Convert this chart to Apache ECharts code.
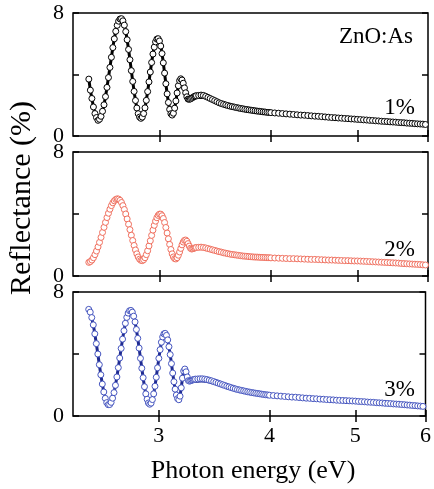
<!DOCTYPE html>
<html>
<head>
<meta charset="utf-8">
<style>
  html, body { margin: 0; padding: 0; background: #fff; }
  #chart-container { width: 434px; height: 489px; }
</style>
<script src="https://cdn.jsdelivr.net/npm/echarts@6.0.0/dist/echarts.min.js"></script>
</head>
<body>
<div id="chart-container"></div>
<script>
// photon energy (eV) of the measured points
var energy = [
  2.50, 2.51, 2.52, 2.53, 2.54, 2.55, 2.56, 2.57, 2.58, 2.59,
  2.60, 2.61, 2.62, 2.63, 2.64, 2.65, 2.66, 2.67, 2.68, 2.69,
  2.70, 2.71, 2.72, 2.73, 2.74, 2.75, 2.76, 2.77, 2.78, 2.79,
  2.80, 2.81, 2.82, 2.83, 2.84, 2.85, 2.86, 2.87, 2.88, 2.89,
  2.90, 2.91, 2.92, 2.93, 2.94, 2.95, 2.96, 2.97, 2.98, 2.99,
  3.00, 3.01, 3.02, 3.03, 3.04, 3.05, 3.06, 3.07, 3.08, 3.09,
  3.10, 3.11, 3.12, 3.13, 3.14, 3.15, 3.16, 3.17, 3.18, 3.19,
  3.20, 3.21, 3.22, 3.23, 3.24, 3.25, 3.26, 3.27, 3.28, 3.29,
  3.30,
  3.32, 3.34, 3.36, 3.38, 3.40, 3.42, 3.44, 3.46, 3.48, 3.50,
  3.52, 3.54, 3.56, 3.58, 3.60, 3.62, 3.64, 3.66, 3.68, 3.70,
  3.72, 3.74, 3.76, 3.78, 3.80, 3.82, 3.84, 3.86, 3.88, 3.90,
  3.92, 3.94, 3.96, 3.98, 4.00,
  4.04, 4.08, 4.12, 4.16, 4.20, 4.24, 4.28, 4.32, 4.36, 4.40,
  4.44, 4.48, 4.52, 4.56, 4.60, 4.64, 4.68, 4.72, 4.76, 4.80,
  4.84, 4.88, 4.92, 4.96, 5.00, 5.04, 5.08, 5.12, 5.16, 5.20,
  5.24, 5.28, 5.32, 5.36, 5.40, 5.44, 5.48, 5.52, 5.56, 5.60,
  5.64, 5.68, 5.72, 5.76, 5.80, 5.84, 5.88, 5.92, 5.96
];

// reflectance (%) for 1%, 2%, 3% As
var reflect1 = [
  3.70, 2.98, 2.44, 1.89, 1.46, 1.20, 1.02, 1.09, 1.28, 1.61,
  2.03, 2.56, 3.16, 3.80, 4.46, 5.12, 5.75, 6.32, 6.81, 7.20,
  7.47, 7.61, 7.63, 7.49, 7.21, 6.79, 6.26, 5.63, 4.96, 4.25,
  3.55, 2.90, 2.31, 1.82, 1.45, 1.23, 1.15, 1.23, 1.46, 1.83,
  2.32, 2.89, 3.52, 4.16, 4.78, 5.33, 5.78, 6.12, 6.30, 6.33,
  6.18, 5.85, 5.36, 4.76, 4.09, 3.40, 2.74, 2.18, 1.73, 1.45,
  1.36, 1.48, 1.81, 2.28, 2.80, 3.27, 3.60, 3.72, 3.64, 3.43,
  3.13, 2.81, 2.55, 2.40, 2.39, 2.41, 2.46, 2.51, 2.56, 2.60,
  2.62,
  2.64, 2.66, 2.64, 2.58, 2.51, 2.44, 2.37, 2.30, 2.23, 2.16,
  2.11, 2.06, 2.02, 1.98, 1.94, 1.91, 1.88, 1.85, 1.82, 1.79,
  1.77, 1.74, 1.72, 1.70, 1.68, 1.66, 1.64, 1.62, 1.61, 1.59,
  1.57, 1.56, 1.54, 1.53, 1.52,
  1.50, 1.48, 1.46, 1.44, 1.42, 1.40, 1.38, 1.36, 1.35, 1.33,
  1.31, 1.29, 1.28, 1.26, 1.24, 1.22, 1.20, 1.19, 1.17, 1.16,
  1.14, 1.13, 1.11, 1.10, 1.08, 1.07, 1.05, 1.04, 1.02, 1.01,
  0.99, 0.98, 0.96, 0.95, 0.94, 0.92, 0.91, 0.90, 0.88, 0.87,
  0.86, 0.84, 0.83, 0.82, 0.80, 0.79, 0.78, 0.77, 0.75
];

var reflect2 = [
  0.88, 0.93, 1.03, 1.18, 1.38, 1.61, 1.88, 2.17, 2.49, 2.81,
  3.14, 3.46, 3.77, 4.05, 4.31, 4.54, 4.72, 4.85, 4.94, 4.98,
  4.96, 4.88, 4.74, 4.54, 4.29, 4.00, 3.68, 3.34, 2.99, 2.63,
  2.29, 1.97, 1.68, 1.43, 1.23, 1.09, 1.01, 0.99, 1.05, 1.18,
  1.38, 1.63, 1.94, 2.27, 2.62, 2.96, 3.27, 3.54, 3.76, 3.91,
  3.99, 3.99, 3.89, 3.71, 3.45, 3.13, 2.77, 2.40, 2.04, 1.71,
  1.43, 1.23, 1.12, 1.10, 1.18, 1.34, 1.55, 1.78, 2.01, 2.19,
  2.30, 2.32, 2.24, 2.09, 1.93, 1.79, 1.74, 1.76, 1.79, 1.82,
  1.84,
  1.85, 1.86, 1.84, 1.81, 1.77, 1.73, 1.69, 1.65, 1.61, 1.57,
  1.54, 1.50, 1.47, 1.44, 1.41, 1.39, 1.37, 1.35, 1.33, 1.31,
  1.29, 1.28, 1.27, 1.25, 1.24, 1.23, 1.22, 1.22, 1.21, 1.20,
  1.20, 1.19, 1.18, 1.18, 1.17,
  1.16, 1.15, 1.14, 1.13, 1.12, 1.12, 1.11, 1.10, 1.09, 1.08,
  1.07, 1.07, 1.06, 1.05, 1.04, 1.03, 1.03, 1.02, 1.01, 1.00,
  0.99, 0.99, 0.98, 0.97, 0.97, 0.96, 0.95, 0.94, 0.93, 0.92,
  0.91, 0.90, 0.89, 0.88, 0.87, 0.86, 0.85, 0.84, 0.83, 0.81,
  0.80, 0.79, 0.78, 0.77, 0.76, 0.75, 0.74, 0.72, 0.71
];

var reflect3 = [
  6.88, 6.70, 6.35, 5.88, 5.30, 4.67, 4.00, 3.31, 2.66, 2.06,
  1.55, 1.14, 0.86, 0.73, 0.74, 0.88, 1.15, 1.51, 1.98, 2.52,
  3.12, 3.74, 4.36, 4.96, 5.50, 5.98, 6.36, 6.64, 6.79, 6.81,
  6.70, 6.44, 6.07, 5.58, 5.01, 4.38, 3.72, 3.08, 2.47, 1.89,
  1.43, 1.08, 0.84, 0.76, 0.83, 1.06, 1.43, 1.92, 2.50, 3.11,
  3.72, 4.28, 4.76, 5.10, 5.30, 5.33, 5.20, 4.91, 4.47, 3.96,
  3.38, 2.77, 2.21, 1.73, 1.35, 1.12, 1.05, 1.28, 1.82, 2.44,
  2.90, 3.03, 2.85, 2.52, 2.28, 2.25, 2.28, 2.31, 2.34, 2.36,
  2.38,
  2.39, 2.40, 2.40, 2.38, 2.35, 2.31, 2.27, 2.22, 2.17, 2.12,
  2.07, 2.02, 1.97, 1.92, 1.88, 1.83, 1.79, 1.75, 1.71, 1.68,
  1.65, 1.62, 1.59, 1.56, 1.54, 1.51, 1.49, 1.47, 1.45, 1.43,
  1.41, 1.39, 1.37, 1.36, 1.34,
  1.32, 1.30, 1.28, 1.26, 1.24, 1.22, 1.21, 1.19, 1.17, 1.15,
  1.14, 1.12, 1.11, 1.09, 1.08, 1.06, 1.05, 1.04, 1.02, 1.01,
  1.00, 0.99, 0.98, 0.97, 0.96, 0.94, 0.93, 0.92, 0.90, 0.89,
  0.88, 0.86, 0.85, 0.84, 0.82, 0.81, 0.80, 0.78, 0.77, 0.76,
  0.74, 0.73, 0.71, 0.70, 0.68, 0.67, 0.65, 0.64, 0.62
];

// fitted curve where it separates from the points (above the gap)
var fitEnergy = [3.24, 3.28, 3.32, 3.36, 3.40, 3.44, 3.48, 3.52, 3.56, 3.60,
                 3.64, 3.68, 3.72, 3.76, 3.80, 3.84, 3.88, 3.92, 3.96, 4.00];
var fit1 = [2.39, 2.45, 2.50, 2.50, 2.44, 2.33, 2.20, 2.08, 1.98, 1.89,
            1.82, 1.76, 1.71, 1.67, 1.64, 1.61, 1.59, 1.57, 1.54, 1.52];
var fit2 = [1.93, 1.76, 1.76, 1.75, 1.71, 1.65, 1.58, 1.51, 1.45, 1.40,
            1.36, 1.32, 1.29, 1.27, 1.25, 1.23, 1.22, 1.20, 1.18, 1.17];
var fit3 = [2.28, 2.25, 2.25, 2.26, 2.23, 2.16, 2.08, 2.00, 1.91, 1.83,
            1.76, 1.70, 1.64, 1.59, 1.55, 1.51, 1.47, 1.43, 1.38, 1.34];

var xTicks = [3, 4, 5, 6];
var panelLabels = ['1%', '2%', '3%'];

var dom = document.getElementById('chart-container');
var myChart = echarts.init(dom, null, { renderer: 'canvas' });

var serif = '"Liberation Serif", "DejaVu Serif", serif';
var xMin = Math.log(2.4);
var xMax = Math.log(6);
var tops = [13, 152, 292];
var heights = [123, 124, 124];
var lineColors = ['#000000', '#ff1f1f', '#1f2a8f'];
var markColors = ['#000000', '#f0705f', '#4656c0'];
var lineWidths = [3, 2, 3];
var reflects = [reflect1, reflect2, reflect3];
var fits = [fit1, fit2, fit3];

// the energy axis is logarithmic: place points at ln(E)
function toPairs(xs, ys) {
  var out = [];
  for (var i = 0; i < xs.length && i < ys.length; i++) {
    out.push([Math.log(xs[i]), ys[i]]);
  }
  return out;
}

var logTicks = xTicks.map(function (v) { return Math.log(v); });
var tickStyle = { color: '#000', width: 1.5 };

var grids = [], xAxes = [], yAxes = [], series = [], graphics = [];

for (var i = 0; i < 3; i++) {
  grids.push({
    left: 73, width: 355, top: tops[i], height: heights[i],
    show: true, borderColor: '#000', borderWidth: 1.5
  });
  xAxes.push({
    type: 'value', gridIndex: i, min: xMin, max: xMax, position: 'bottom',
    axisLine: { show: false }, splitLine: { show: false },
    axisTick: { inside: true, length: 6, lineStyle: tickStyle, customValues: logTicks },
    axisLabel: {
      show: i === 2, customValues: logTicks, showMaxLabel: true,
      formatter: function (v) { return String(Math.round(Math.exp(v))); },
      fontFamily: serif, fontSize: 22, color: '#000', margin: 9
    }
  });
  xAxes.push({
    type: 'value', gridIndex: i, min: xMin, max: xMax, position: 'top',
    axisLine: { show: false }, splitLine: { show: false },
    axisTick: { inside: true, length: 6, lineStyle: tickStyle, customValues: logTicks },
    axisLabel: { show: false }
  });
  yAxes.push({
    type: 'value', gridIndex: i, min: 0, max: 8, interval: 4, position: 'left',
    axisLine: { show: false }, splitLine: { show: false },
    axisTick: { inside: true, length: 6, lineStyle: tickStyle },
    axisLabel: {
      formatter: function (v) { return v === 4 ? '' : String(v); },
      fontFamily: serif, fontSize: 22, color: '#000', margin: 9
    }
  });
  yAxes.push({
    type: 'value', gridIndex: i, min: 0, max: 8, interval: 4, position: 'right',
    axisLine: { show: false }, splitLine: { show: false },
    axisTick: { inside: true, length: 6, lineStyle: tickStyle },
    axisLabel: { show: false }
  });

  series.push({
    type: 'line', xAxisIndex: 2 * i, yAxisIndex: 2 * i,
    data: toPairs(fitEnergy, fits[i]),
    symbol: 'none', smooth: true, silent: true, z: 2,
    lineStyle: { color: lineColors[i], width: lineWidths[i] }
  });
  series.push({
    type: 'line', xAxisIndex: 2 * i, yAxisIndex: 2 * i,
    data: toPairs(energy, reflects[i]),
    symbol: 'circle', symbolSize: 6, showAllSymbol: true, z: 3,
    itemStyle: { color: '#fff', borderColor: markColors[i], borderWidth: 1 },
    lineStyle: { color: lineColors[i], width: lineWidths[i] }
  });
}

var labelY = [108, 250, 390];
for (var k = 0; k < 3; k++) {
  graphics.push({
    type: 'text', x: 415, y: labelY[k],
    style: { text: panelLabels[k], font: '23px ' + serif, fill: '#000', align: 'right', verticalAlign: 'middle' }
  });
}
graphics.push({
  type: 'text', x: 413, y: 37,
  style: { text: 'ZnO:As', font: '23px ' + serif, fill: '#000', align: 'right', verticalAlign: 'middle' }
});
graphics.push({
  type: 'text', x: 253, y: 471,
  style: { text: 'Photon energy (eV)', font: '26px ' + serif, fill: '#000', align: 'center', verticalAlign: 'middle' }
});
graphics.push({
  type: 'text', x: 22, y: 198, rotation: Math.PI / 2,
  style: { text: 'Reflectance (%)', font: '30px ' + serif, fill: '#000', align: 'center', verticalAlign: 'middle' }
});

var option = {
  animation: false,
  backgroundColor: '#fff',
  grid: grids,
  xAxis: xAxes,
  yAxis: yAxes,
  series: series,
  graphic: graphics
};

if (option && typeof option === 'object') {
  myChart.setOption(option);
}

window.addEventListener('resize', myChart.resize);
</script>
</body>
</html>
